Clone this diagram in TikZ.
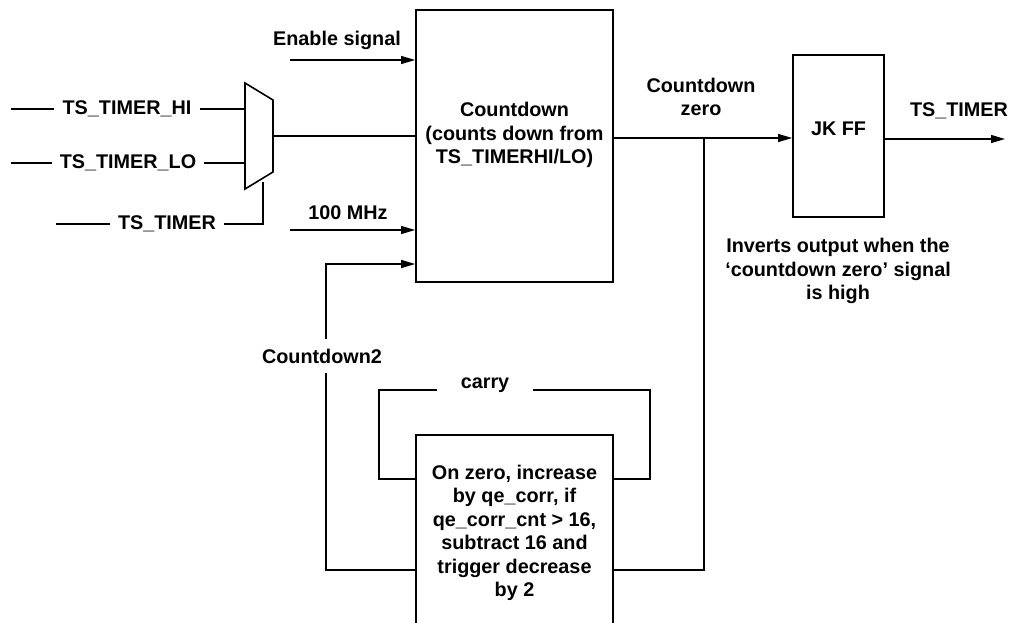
\documentclass[tikz,border=0pt]{standalone}
\usepackage{fontspec}
\setmainfont{Liberation Sans}
\usetikzlibrary{arrows.meta}
\begin{document}
\begin{tikzpicture}[x=1pt,y=-1pt,
  lbl/.style={font=\fontsize{19.8}{23.5}\selectfont\bfseries, inner sep=0pt, align=center},
  side/.style={lbl, inner xsep=8pt},
  box/.style={draw, line width=1.8pt, inner sep=0pt},
  wire/.style={line width=1.3pt},
  arr/.style={wire, -{Triangle[length=14pt,width=8pt]}}]
\clip (0,0) rectangle (1009,622);
\fill[white] (0,0) rectangle (1009,622);

% blocks
\node[box, minimum width=197pt, minimum height=272pt] (cd) at (514.5,146) {};
\node[lbl] (cdtext) at (514.5,135) {Countdown\\(counts down from\\TS\_TIMERHI/LO)};
\node[box, minimum width=91pt, minimum height=162pt] (jk) at (838.5,136) {};
\node[lbl] (jktext) at (838.5,129) {JK FF};
\node[box, minimum width=197pt, minimum height=240pt] (corr) at (514.5,555) {};
\node[lbl] (corrtext) at (514.5,533) {On zero, increase\\by qe\_corr, if\\qe\_corr\_cnt > 16,\\subtract 16 and\\trigger decrease\\by 2};

% mux
\draw[line width=1.6pt] (245,83) -- (273,100) -- (273,172) -- (245,189) -- cycle;
\coordinate (m1) at (245,109);
\coordinate (m2) at (245,163);
\coordinate (msel) at (263,182);
\coordinate (mout) at (273,136);

% mux inputs
\coordinate (hiA) at (11,109);
\node[side] (hi) at (127,109) {TS\_TIMER\_HI};
\draw[wire] (hiA) -- (hi.west);
\draw[wire] (hi.east) -- (m1);
\coordinate (loA) at (11,163);
\node[side] (lo) at (128,163) {TS\_TIMER\_LO};
\draw[wire] (loA) -- (lo.west);
\draw[wire] (lo.east) -- (m2);
\coordinate (tsA) at (56,224);
\node[side] (ts) at (167,224) {TS\_TIMER};
\draw[wire] (tsA) -- (ts.west);
\draw[wire] (ts.east) -| (msel);

% mux output
\draw[wire] (mout) -- (cd.west |- mout);

% enable and clock
\coordinate (enA) at (290,60);
\node[lbl] (en) at (337,40) {Enable signal};
\draw[arr] (enA) -- (cd.west |- enA);
\coordinate (clkA) at (290,230);
\node[lbl] (clk) at (348,213) {100 MHz};
\draw[arr] (clkA) -- (cd.west |- clkA);

% countdown zero
\coordinate (zy) at (0,138);
\node[lbl] (zero) at (701,97) {Countdown\\zero};
\draw[arr] (cd.east |- zy) -- (jk.west |- zy);
\coordinate (br) at (704,138);
\coordinate (y570) at (0,570);
\draw[wire] (br) -- (br |- y570) -- (corr.east |- y570);

% output
\coordinate (oy) at (0,139);
\coordinate (outB) at (1005,139);
\draw[arr] (jk.east |- oy) -- (outB);
\node[lbl] (tsout) at (959,111) {TS\_TIMER};
\node[lbl] (inv) at (838,271) {Inverts output when the\\`countdown zero' signal\\is high};

% countdown2 feedback
\coordinate (c2a) at (326,570);
\coordinate (c2b) at (326,264);
\draw[arr] (corr.west |- y570) -- (c2a) -- (c2b) -- (cd.west |- c2b);
\node[lbl, fill=white, inner xsep=2pt, inner ysep=10pt] (cd2) at (322,356) {Countdown2};

% carry loop
\coordinate (y479) at (0,479);
\draw[wire] (corr.west |- y479) -- (379,479) -- (379,390) -- (650,390) -- (650,479) -- (corr.east |- y479);
\node[lbl, fill=white, inner xsep=24pt, inner ysep=3pt] (carry) at (485,385) {carry};
\end{tikzpicture}
\end{document}
